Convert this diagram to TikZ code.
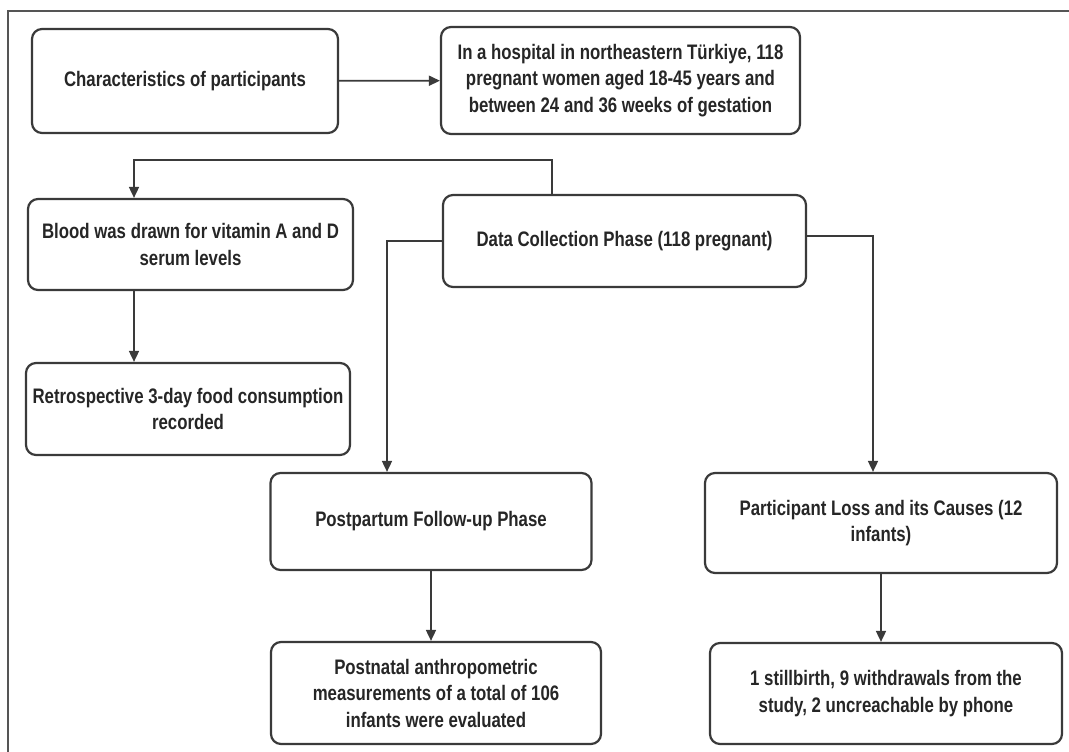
\documentclass[tikz,border=0pt]{standalone}
\usepackage{fontspec}
\setmainfont{Liberation Sans}[FakeStretch=0.8]
\usetikzlibrary{arrows.meta}
\definecolor{framegray}{HTML}{555555}
\definecolor{boxgray}{HTML}{3A3A3A}
\tikzset{stage/.style={draw=boxgray, line width=2.2pt, rounded corners=10pt, align=center,
    font=\bfseries\fontsize{21}{26.5}\selectfont, text=black!85, inner sep=2pt},
  link/.style={draw=boxgray, line width=1.7pt, -{Triangle[length=11pt,width=10pt]}}}

\begin{document}
\begin{tikzpicture}[x=1pt,y=-1pt]
  \useasboundingbox (0,0) rectangle (1069,752);
  % frame
  \draw[framegray, line width=1.8pt] (1069,11) -- (8,11) -- (8,752);

  % top row
  \node[stage, minimum width=306pt, minimum height=104pt] (chars) at (185,81)
    {Characteristics of participants};
  \node[stage, minimum width=359pt, minimum height=107pt] (hosp) at (620.5,80.5)
    {In a hospital in northeastern Türkiye, 118\\pregnant women aged 18-45 years and\\between 24 and 36 weeks of gestation};

  % left column
  \node[stage, minimum width=325pt, minimum height=91pt] (blood) at (190.5,244.5)
    {Blood was drawn for vitamin A and D\\serum levels};
  \node[stage, minimum width=324pt, minimum height=92pt] (retro) at (188,409)
    {Retrospective 3-day food consumption\\recorded};

  % data collection
  \node[stage, minimum width=363pt, minimum height=92pt] (collect) at (624.5,241)
    {Data Collection Phase (118 pregnant)};

  % bottom row
  \node[stage, minimum width=321pt, minimum height=97pt] (postp) at (431,521.5)
    {Postpartum Follow-up Phase};
  \node[stage, minimum width=330pt, minimum height=102pt] (anthro) at (436,693)
    {Postnatal anthropometric\\measurements of a total of 106\\infants were evaluated};
  \node[stage, minimum width=352pt, minimum height=100pt] (loss) at (881,523)
    {Participant Loss and its Causes (12\\infants)};
  \node[stage, minimum width=352pt, minimum height=101pt] (still) at (886,693.5)
    {1 stillbirth, 9 withdrawals from the\\study, 2 uncreachable by phone};

  % bends
  \coordinate (upbend) at (552,160);
  \coordinate (leftbend) at (134,160);
  \coordinate (postdrop) at (387,0);
  \coordinate (lossdrop) at (873,0);

  % connectors
  \draw[link] (chars) -- (hosp);
  \draw[link] (collect.north -| upbend) -- (upbend) -- (leftbend) -- (blood.north -| leftbend);
  \draw[link] (blood.south -| leftbend) -- (retro.north -| leftbend);
  \draw[link] (collect.west) -| (postdrop |- postp.north);
  \draw[link] ([yshift=5pt]collect.east) -| (lossdrop |- loss.north);
  \draw[link] (postp.south) -- (postp.south |- anthro.north);
  \draw[link] (loss.south) -- (loss.south |- still.north);
\end{tikzpicture}
\end{document}
